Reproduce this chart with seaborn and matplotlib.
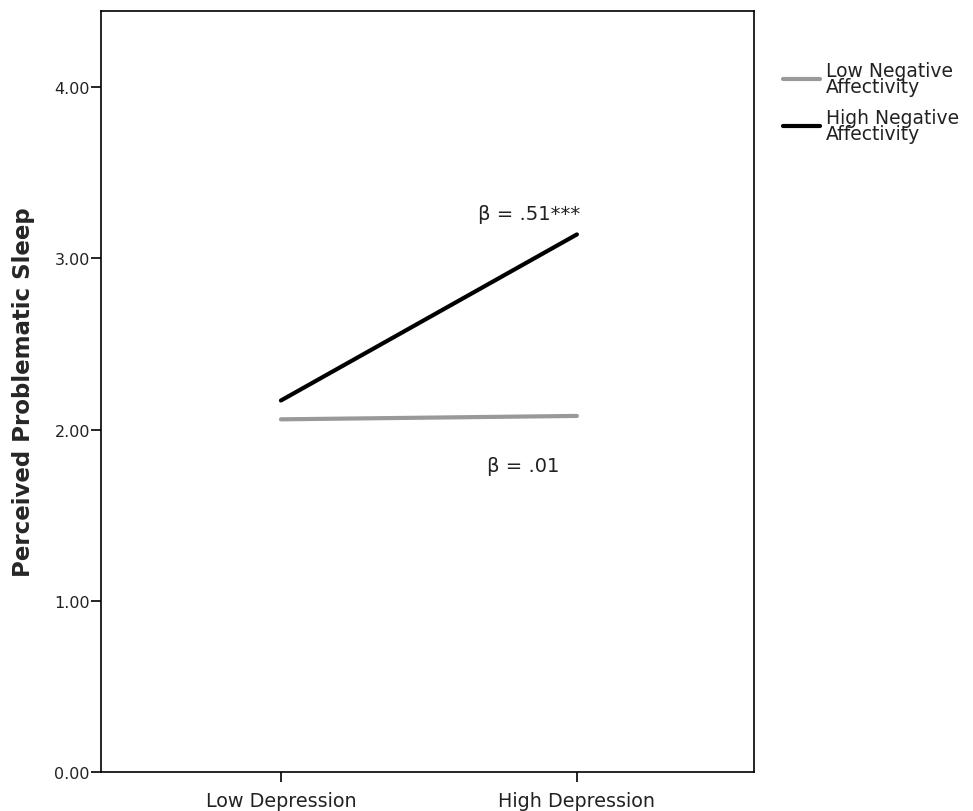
import matplotlib
matplotlib.use("Agg")
import matplotlib.pyplot as plt
import seaborn as sns
import pandas as pd

categories = ["Low Depression", "High Depression"]
groups = ["Low Negative\nAffectivity", "High Negative\nAffectivity"]
low_na = [2.06, 2.08]
high_na = [2.17, 3.14]
y_ticks = [0.0, 1.0, 2.0, 3.0, 4.0]
ann_high = "β = .51***"
ann_low = "β = .01"

df = pd.DataFrame({
    "x": [0, 1, 0, 1],
    "y": low_na + high_na,
    "group": [groups[0]] * 2 + [groups[1]] * 2,
})

sns.set_theme(style="white")
plt.rcParams["font.family"] = ["DejaVu Sans"]

fig = plt.figure(figsize=(9.73, 8.12), dpi=100)
ax = fig.add_axes([0.1038, 0.048, 0.671, 0.937])

sns.lineplot(data=df, x="x", y="y", hue="group", hue_order=groups,
             palette=["#999999", "#000000"], linewidth=3, ax=ax)

ax.set_xlim(-0.608, 1.598)
ax.set_ylim(0, 4.444)
ax.set_xticks([0, 1])
ax.set_xticklabels(categories, fontsize=13.8, color="#222222")
ax.set_yticks(y_ticks)
ax.set_yticklabels([f"{v:.2f}" for v in y_ticks], fontsize=11.5, color="#222222")
ax.tick_params(axis="both", direction="out", length=7, width=1.2, color="black",
               bottom=True, left=True)
ax.tick_params(axis="x", pad=7)
ax.tick_params(axis="y", pad=1)
for s in ax.spines.values():
    s.set_color("black")
    s.set_linewidth(1.2)
ax.set_xlabel("")
ax.set_ylabel("Perceived Problematic Sleep", fontsize=16.5, fontweight="bold", labelpad=14)

ax.text(0.84, 3.26, ann_high, ha="center", va="center", fontsize=14, color="#222222")
ax.text(0.82, 1.79, ann_low, ha="center", va="center", fontsize=14, color="#222222")

leg = ax.legend(loc="upper left", bbox_to_anchor=(1.033, 0.945), frameon=False,
                fontsize=13.5, handlelength=2.0, handletextpad=0.3,
                labelspacing=0.65, borderaxespad=0)
for t in leg.get_texts():
    t.set_linespacing(0.8)
    t.set_color("#222222")

fig.savefig("out.png", dpi=100)
